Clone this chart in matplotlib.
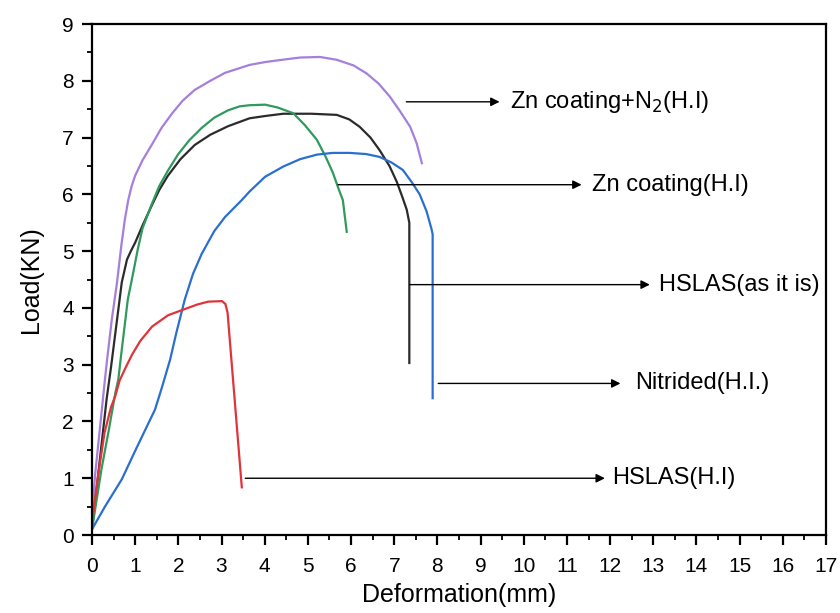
import matplotlib
matplotlib.use("Agg")
import matplotlib.pyplot as plt
from matplotlib.ticker import MultipleLocator

plt.rcParams['font.family'] = ['Liberation Sans', 'DejaVu Sans']

# Zn coating+N2 (H.I) - purple
zn_n2_x = [0, 0.07, 0.20, 0.30, 0.35, 0.46, 0.58, 0.68, 0.76, 0.84, 0.92, 1.00, 1.17, 1.39, 1.61,
           1.86, 2.10, 2.38, 2.74, 3.08, 3.65, 4.01, 4.40, 4.82, 5.28, 5.67, 6.06, 6.36, 6.64, 6.90,
           7.13, 7.37, 7.52, 7.64]
zn_n2_y = [0.3, 1.04, 2.0, 2.74, 3.09, 3.8, 4.45, 5.1, 5.55, 5.9, 6.15, 6.33, 6.6, 6.88, 7.17,
           7.43, 7.65, 7.84, 8.0, 8.14, 8.28, 8.33, 8.37, 8.41, 8.42, 8.37, 8.27, 8.13, 7.95, 7.72,
           7.47, 7.19, 6.9, 6.55]

# HSLAS (as it is) - black
hslas_x = [0, 0.14, 0.34, 0.44, 0.59, 0.69, 0.81, 0.90, 1.00, 1.17, 1.37, 1.56, 1.76, 2.05, 2.38,
           2.74, 3.15, 3.65, 4.01, 4.43, 5.08, 5.67, 5.96, 6.20, 6.45, 6.66, 6.89, 7.06, 7.19, 7.29,
           7.35, 7.35]
hslas_y = [0.1, 1.04, 2.4, 2.95, 3.85, 4.45, 4.85, 5.0, 5.15, 5.45, 5.78, 6.08, 6.33, 6.62, 6.87,
           7.05, 7.2, 7.34, 7.38, 7.42, 7.42, 7.4, 7.32, 7.19, 7.0, 6.78, 6.5, 6.22, 5.95, 5.73,
           5.5, 3.03]

# Zn coating (H.I) - green
zn_x = [0, 0.22, 0.39, 0.54, 0.61, 0.68, 0.83, 0.95, 1.06, 1.17, 1.37, 1.56, 1.76, 1.99, 2.25,
        2.54, 2.83, 3.15, 3.42, 3.65, 4.01, 4.30, 4.66, 4.93, 5.21, 5.42, 5.58, 5.71, 5.81, 5.90]
zn_y = [0.1, 1.16, 1.85, 2.5, 2.74, 3.2, 4.15, 4.6, 5.03, 5.4, 5.8, 6.15, 6.42, 6.7, 6.95, 7.17,
        7.35, 7.48, 7.55, 7.57, 7.58, 7.53, 7.43, 7.22, 6.96, 6.65, 6.38, 6.1, 5.9, 5.34]

# Nitrided (H.I.) - blue
nit_x = [0, 0.30, 0.69, 0.98, 1.15, 1.46, 1.62, 1.81, 1.95, 2.15, 2.34, 2.54, 2.83, 3.08, 3.47,
         3.65, 4.01, 4.43, 4.82, 5.21, 5.57, 5.97, 6.35, 6.66, 6.94, 7.20, 7.42, 7.59, 7.75, 7.86,
         7.89, 7.89]
nit_y = [0.1, 0.5, 0.98, 1.45, 1.72, 2.21, 2.6, 3.09, 3.55, 4.15, 4.6, 4.95, 5.35, 5.6, 5.9, 6.05,
         6.31, 6.49, 6.62, 6.7, 6.73, 6.73, 6.71, 6.66, 6.56, 6.43, 6.2, 6.0, 5.7, 5.4, 5.3, 2.41]

# HSLAS (H.I) - red
hi_x = [0, 0.14, 0.29, 0.44, 0.54, 0.64, 0.78, 0.93, 1.12, 1.39, 1.76, 2.15, 2.44, 2.69, 3.01,
        3.09, 3.14, 3.47]
hi_y = [0.2, 1.04, 1.8, 2.25, 2.45, 2.72, 2.95, 3.18, 3.42, 3.67, 3.87, 3.98, 4.06, 4.11, 4.12,
        4.07, 3.92, 0.84]

labels = ["Zn coating+N$_2$(H.I)", "Zn coating(H.I)", "HSLAS(as it is)", "Nitrided(H.I.)", "HSLAS(H.I)"]
arrow_start_x = [7.28, 5.70, 7.36, 8.02, 3.55]
arrow_end_x = [9.44, 11.34, 12.92, 12.24, 11.88]
arrow_y = [7.63, 6.17, 4.41, 2.67, 1.0]
text_x = [9.68, 11.57, 13.13, 12.57, 12.04]

fig = plt.figure(figsize=(8.4, 6.13), dpi=100)
ax = fig.add_axes([0.1095, 0.1272, 0.8738, 0.8336])

lw = 1.6
ax.plot(zn_n2_x, zn_n2_y, color='#a47fdb', lw=lw)
ax.plot(hslas_x, hslas_y, color='#2b2b2b', lw=lw)
ax.plot(zn_x, zn_y, color='#2f9a5c', lw=lw)
ax.plot(nit_x, nit_y, color='#2a6fcf', lw=lw)
ax.plot(hi_x, hi_y, color='#e2333b', lw=lw)

for lab, sx, ex, yy, tx in zip(labels, arrow_start_x, arrow_end_x, arrow_y, text_x):
    ax.annotate("", xy=(ex, yy), xytext=(sx, yy),
                arrowprops=dict(arrowstyle='-|>', color='black', lw=1.0, mutation_scale=13,
                                shrinkA=0, shrinkB=0))
    ax.text(tx, yy, lab, fontsize=17, va='center', ha='left')

ax.set_xlim(0, 17)
ax.set_ylim(0, 9)
ax.xaxis.set_major_locator(MultipleLocator(1))
ax.xaxis.set_minor_locator(MultipleLocator(0.5))
ax.yaxis.set_major_locator(MultipleLocator(1))
ax.yaxis.set_minor_locator(MultipleLocator(0.5))
ax.tick_params(which='major', direction='out', length=7, width=1.6, labelsize=15)
ax.tick_params(which='minor', direction='out', length=3.5, width=1.3)
ax.tick_params(axis='x', which='major', pad=9)
ax.tick_params(axis='y', which='major', pad=6)
for sp in ax.spines.values():
    sp.set_linewidth(1.6)

ax.set_xlabel("Deformation(mm)", fontsize=18, labelpad=5)
ax.set_ylabel("Load(KN)", fontsize=18, labelpad=14)

fig.savefig("out.png", dpi=100)
